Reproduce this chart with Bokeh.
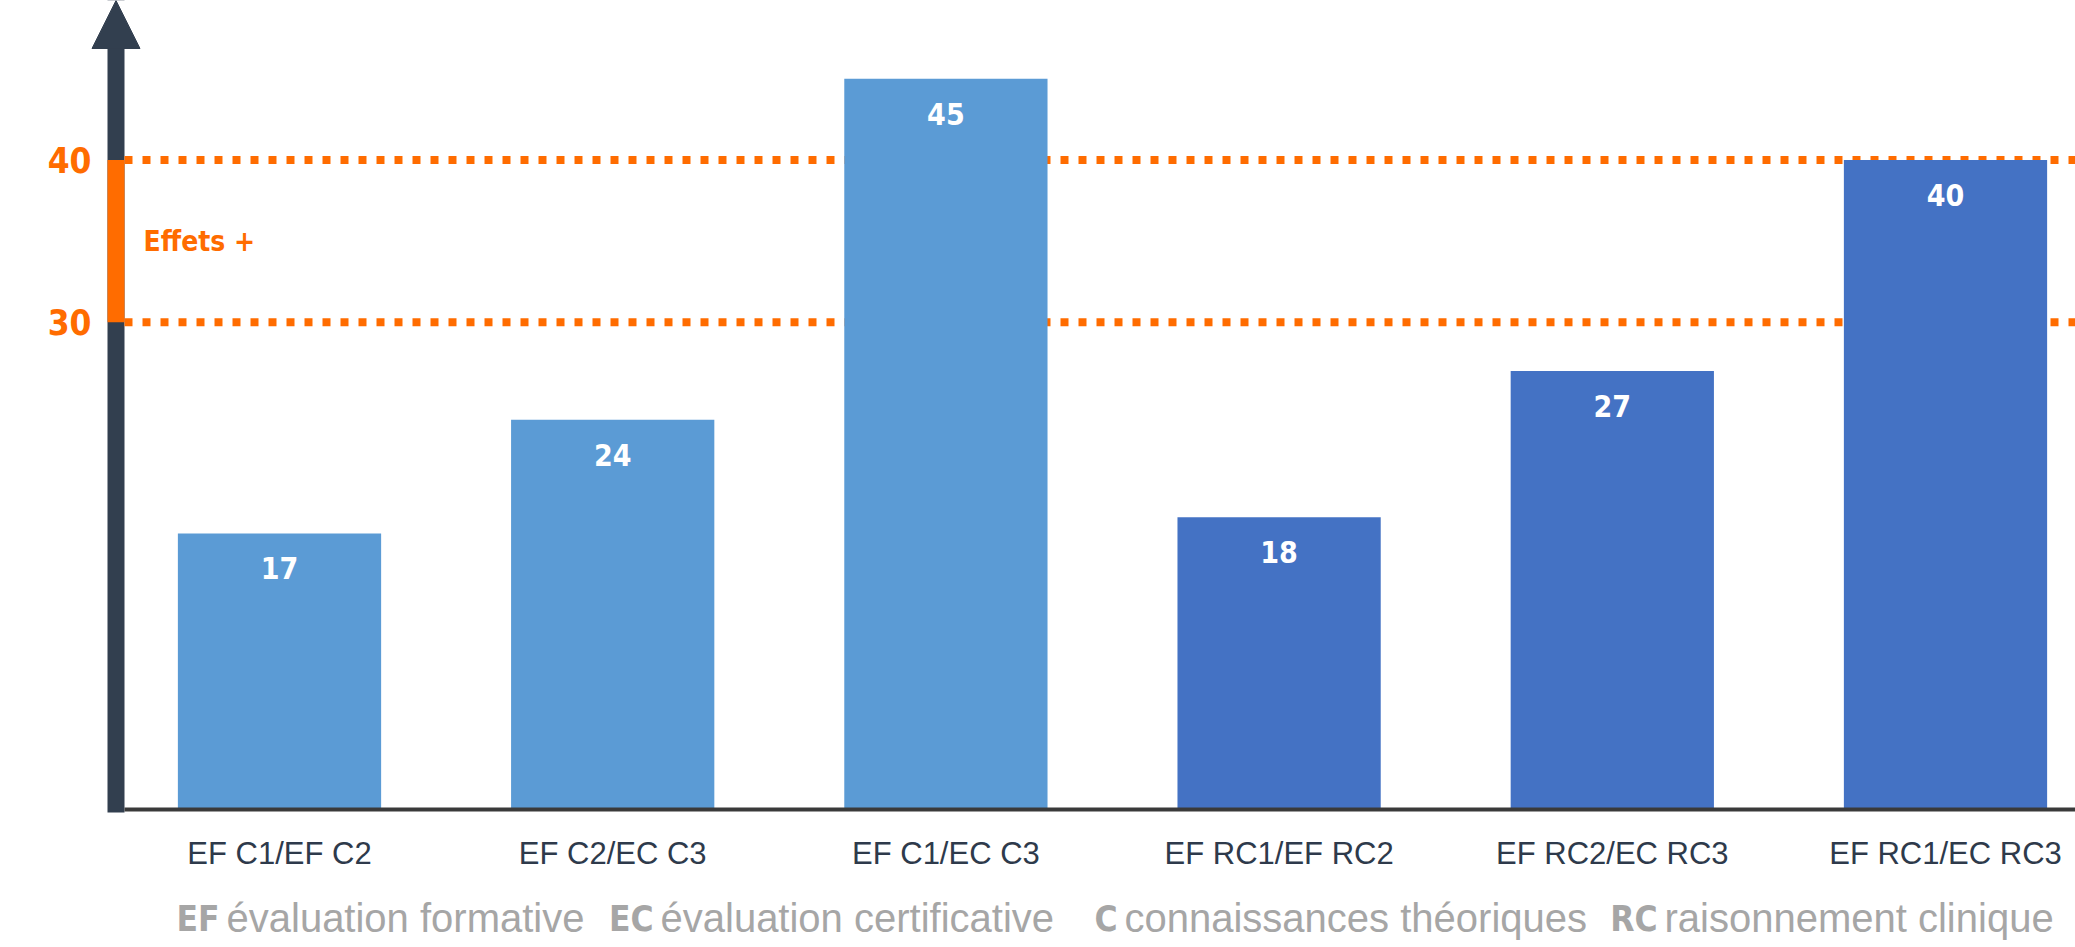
from bokeh.plotting import figure
from bokeh.models import Range1d, Arrow, NormalHead, ColumnDataSource
from bokeh.transform import factor_cmap
from bokeh.core.properties import value
from bokeh.embed import file_html
from bokeh.resources import INLINE

# ---- data ----
categories = ["EF C1/EF C2", "EF C2/EC C3", "EF C1/EC C3",
              "EF RC1/EF RC2", "EF RC2/EC RC3", "EF RC1/EC RC3"]
values = [17, 24, 45, 18, 27, 40]
groups = ["C", "C", "C", "RC", "RC", "RC"]
threshold_values = [30, 40]
threshold_labels = ["30", "40"]
zone_label = "Effets +"
legend_abbr = ["EF", "EC", "C", "RC"]
legend_text = ["évaluation formative", "évaluation certificative",
               "connaissances théoriques", "raisonnement clinique"]

# ---- styling ----
ORANGE = "#FF6C00"
DARK = "#323F4F"
BAR_COLORS = ["#5B9BD5", "#4472C4"]
GREY = "#A6A6A6"
COND = "DejaVu Sans Condensed"
REG = "Liberation Sans"

W, H = 2075, 947
PX_X = 333.2      # pixels per category
PX_Y = 16.24      # pixels per unit
X0 = 279          # pixel centre of first category
BASE = 809        # pixel of value 0

def px_x(px):
    return (px - X0) / PX_X

def px_y(py):
    return (BASE - py) / PX_Y

p = figure(width=W, height=H, output_backend="svg", toolbar_location=None,
           x_range=Range1d(px_x(0), px_x(W)),
           y_range=Range1d(px_y(H), px_y(0)),
           x_axis_location=None, y_axis_location=None,
           min_border=0, outline_line_color=None)
p.grid.visible = False

xs = list(range(len(categories)))
src = ColumnDataSource(dict(x=xs, top=values, group=groups,
                            lab=[str(v) for v in values],
                            ly=[v - 35 / PX_Y for v in values]))

# dotted threshold lines
axis_right = px_x(124)
p.segment(x0=axis_right, x1=px_x(W), y0=threshold_values, y1=threshold_values,
          line_color=ORANGE, line_width=8, line_dash="8 10")

# bars
p.vbar(x="x", top="top", bottom=0, width=0.61, source=src, line_color=None,
       fill_color=factor_cmap("group", palette=BAR_COLORS, factors=["C", "RC"]))

# value labels
p.text(x="x", y="ly", text="lab", source=src, text_align="center",
       text_baseline="middle", text_color="white", text_font_size="30px",
       text_font_style="bold", text_font=value(COND))

# baseline
p.segment(x0=[axis_right], x1=[px_x(W)], y0=[0], y1=[0], line_color="#3A3A3A", line_width=4)

# vertical axis with arrow
axis_x = px_x(115.5)
arrow = Arrow(x_start=axis_x, y_start=px_y(812), x_end=axis_x, y_end=px_y(0),
              line_width=17, line_color=DARK, level="underlay",
              end=NormalHead(size=48, fill_color=DARK, line_color=DARK))
p.add_layout(arrow)

# orange zone on axis
p.segment(x0=[axis_x], x1=[axis_x], y0=[min(threshold_values)], y1=[max(threshold_values)],
          line_color=ORANGE, line_width=17)

# threshold tick labels
p.text(x=px_x(91), y=threshold_values, text=threshold_labels, text_align="right",
       text_baseline="middle", text_color=ORANGE, text_font_size="35px",
       text_font_style="bold", text_font=value(COND))

p.text(x=[px_x(143)], y=[sum(threshold_values) / 2], text=[zone_label], text_align="left",
       text_baseline="middle", text_color=ORANGE, text_font_size="28px",
       text_font_style="bold", text_font=value(COND))

# category labels
p.text(x=xs, y=[px_y(853)] * len(xs), text=categories, text_align="center",
       text_baseline="middle", text_color="#2E3A4B", text_font_size="31px",
       text_font=value(REG))

# legend line beneath
text_px = [226, 660, 1124, 1664]
abbr_right_px = [t - 7 for t in text_px]
p.text(x=[px_x(v) for v in abbr_right_px], y=[px_y(918)] * 4, text=legend_abbr,
       text_align="right", text_baseline="middle", text_color=GREY,
       text_font_size="35px", text_font_style="bold", text_font=value(COND))
p.text(x=[px_x(v) for v in text_px], y=[px_y(917)] * 4, text=legend_text,
       text_align="left", text_baseline="middle", text_color=GREY,
       text_font_size="40px", text_font=value(REG))

open("out.html", "w").write(file_html(p, INLINE))
